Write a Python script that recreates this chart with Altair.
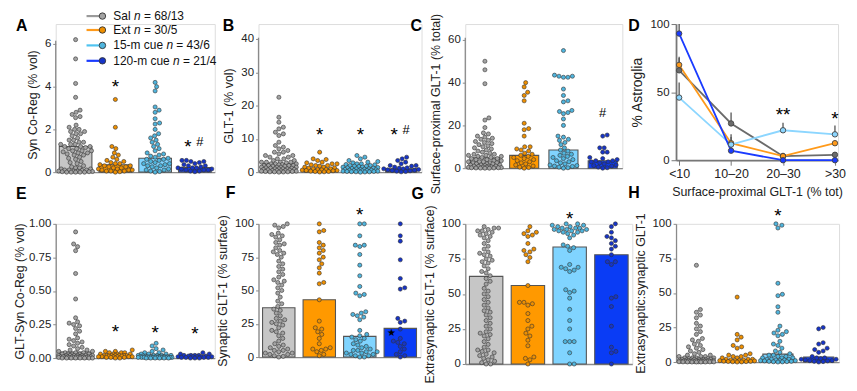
import altair as alt
import pandas as pd

FONT = "Liberation Sans"
GROUPS = ["Sal", "Ext", "15-m cue", "120-m cue"]
LEG_PRE = ["Sal", "Ext", "15-m cue", "120-m cue"]
LEG_SUF = ["= 68/13", "= 30/5", "= 43/6", "= 21/4"]
BAR_FILL = ["#C6C6C6", "#FF9900", "#80D4FF", "#0A3CF5"]
DOT_FILL = ["#A3A3A3", "#EE8F00", "#4FB5DE", "#1634C8"]
LINE_COL = ["#6B6B6B", "#FF9A1A", "#8CD6FF", "#1A3BFF"]
LEG_LINE = ["#9A9A9A", "#FF9A1A", "#4FC3F0", "#1A3BFF"]
DOT_STROKE = "#333333"
AXIS_COL = "#8A8A8A"

A_SAL = [6.2, 5.3, 4.15, 3.5, 2.9, 2.8, 2.7, 2.6, 2.55, 2.2, 2.1, 2.0, 2.0, 1.9, 1.9, 1.8, 1.8, 1.7, 1.6,
         1.5, 1.5, 1.4, 1.4, 1.3, 1.3, 1.3, 1.2, 1.2, 1.2, 1.15, 1.1, 1.1, 1.0, 1.0, 1.0, 0.95, 0.9, 0.9,
         0.85, 0.8, 0.8, 0.7, 0.65, 0.6, 0.5, 0.45, 0.4, 0.3, 0.25, 0.2, 0.2, 0.15, 0.15, 0.1, 0.1, 0.1,
         0.08, 0.05, 0.05, 0.05, 0.03, 0.02, 0.02, 0.0, 0.0, 0.0, 0.0, 0.0]
A_EXT = [3.4, 2.1, 1.2, 1.1, 0.9, 0.8, 0.7, 0.6, 0.55, 0.5, 0.45, 0.4, 0.4, 0.35, 0.3, 0.3, 0.25, 0.25,
         0.2, 0.2, 0.15, 0.15, 0.1, 0.1, 0.1, 0.05, 0.05, 0.05, 0.02, 0.0]
A_15 = [4.2, 4.0, 3.8, 3.05, 2.9, 2.8, 2.5, 2.3, 2.25, 2.0, 1.8, 1.7, 1.6, 1.5, 1.4, 1.3, 1.2, 1.1, 1.0,
        0.9, 0.85, 0.8, 0.75, 0.7, 0.65, 0.6, 0.6, 0.55, 0.5, 0.45, 0.4, 0.4, 0.35, 0.3, 0.3, 0.25, 0.2,
        0.15, 0.1, 0.1, 0.05, 0.03, 0.0]
A_120 = [0.55, 0.55, 0.5, 0.5, 0.45, 0.4, 0.35, 0.3, 0.3, 0.25, 0.2, 0.2, 0.2, 0.15, 0.15, 0.1, 0.1,
         0.1, 0.05, 0.05, 0.02]
A_BARS = [1.2, 0.35, 0.65, 0.22]

B_SAL = [22.5, 16.5, 15, 13.5, 13, 12, 11.5, 11, 9, 8, 7.5, 7, 6.5, 6, 6, 5.5, 5, 5, 4.5, 4.5, 4, 4,
         3.5, 3.5, 3, 3, 3, 3, 2.8, 2.5, 2.5, 2.5, 2.3, 2.2, 2, 2, 2, 2, 1.8, 1.8, 1.5, 1.5, 1.5, 1.5,
         1.3, 1.2, 1.2, 1, 1, 1, 1, 0.8, 0.8, 0.7, 0.6, 0.5, 0.5, 0.5, 0.4, 0.3, 0.3, 0.2, 0.2, 0.1,
         0.1, 0.1, 0.05, 0]
B_EXT = [6, 4, 3.8, 3.5, 3, 2.8, 2.5, 2.5, 2.2, 2, 2, 1.8, 1.5, 1.5, 1.3, 1.2, 1, 1, 0.8, 0.8, 0.7,
         0.6, 0.5, 0.5, 0.4, 0.3, 0.2, 0.2, 0.1, 0.05]
B_15 = [5, 4.5, 4, 3.5, 3.2, 3, 2.8, 2.5, 2.5, 2.3, 2.2, 2, 2, 1.8, 1.8, 1.7, 1.5, 1.5, 1.4, 1.3, 1.2,
        1.1, 1, 1, 0.9, 0.8, 0.8, 0.7, 0.6, 0.6, 0.5, 0.5, 0.4, 0.4, 0.3, 0.3, 0.2, 0.2, 0.15, 0.1,
        0.1, 0.05, 0]
B_120 = [4.5, 4, 3.5, 3, 2.5, 2, 2, 1.8, 1.5, 1.3, 1.2, 1, 1, 0.8, 0.7, 0.6, 0.5, 0.4, 0.3, 0.2, 0.1]
B_BARS = [2.5, 1.0, 1.0, 1.0]

C_SAL = [50, 46, 39.5, 23.5, 22.5, 19, 16.5, 16, 15, 14.5, 14, 13.5, 13, 12.5, 12, 11.5, 11, 10.5, 10,
         9.5, 9, 8.5, 8, 7.5, 7, 6.5, 6.5, 6, 6, 5.5, 5.5, 5, 5, 4.5, 4.5, 4, 4, 3.5, 3.5, 3, 3, 3, 2.5,
         2.5, 2.5, 2, 2, 2, 1.5, 1.5, 1.5, 1.2, 1, 1, 1, 0.8, 0.6, 0.5, 0.5, 0.4, 0.3, 0.2, 0.2, 0.1,
         0.1, 0.05, 0, 0]
C_EXT = [40, 38, 35.5, 34, 31.5, 21, 18.5, 18, 15, 10, 10, 9, 8.5, 8, 7, 6.5, 6, 5.5, 5, 4.5, 4, 3.5,
         3, 2.5, 2, 1.5, 1, 0.5, 0.3, 0]
C_15 = [55, 43.5, 43, 43, 42.5, 42.5, 37, 34, 31.5, 31, 27, 26.5, 26, 25.5, 23, 20, 15, 14.5, 13.5, 13,
        12, 11, 9.5, 8.5, 8, 7, 6.5, 6, 5.5, 5, 4.5, 4, 3.5, 3, 2.5, 2, 1.5, 1.2, 1, 0.8, 0.5, 0.2, 0]
C_120 = [15.5, 15, 9.5, 9.5, 7.5, 7.5, 5, 4.5, 4, 3.5, 3.5, 3, 3, 2.5, 2, 1.5, 1.2, 1, 0.5, 0.2, 0]
C_BARS = [4.8, 6.0, 8.5, 3.5]

D_CATS = ["<10", "10–20", "20–30", ">30"]
D_SAL = [66, 27, 3, 4]
D_SAL_TOP = [75, 35, 5.5, 6]
D_EXT = [70, 12.5, 3, 12.5]
D_EXT_TOP = [76, 19, 4.5, 14.5]
D_15 = [46, 11.5, 22, 19]
D_15_TOP = [57, 17, 27.5, 25.5]
D_120 = [93, 7, 0, 0]
D_120_TOP = [100, 11.5, 0, 0]

E_SAL = [0.94, 0.85, 0.83, 0.80, 0.63, 0.44, 0.30, 0.27, 0.26, 0.25, 0.24, 0.22, 0.2, 0.18, 0.15, 0.14,
         0.13, 0.12, 0.11, 0.1, 0.09, 0.08, 0.07, 0.06, 0.06, 0.05, 0.05, 0.04, 0.04, 0.04, 0.03, 0.03,
         0.03, 0.03, 0.03, 0.02, 0.02, 0.02, 0.02, 0.02, 0.02, 0.02, 0.02, 0.01, 0.01, 0.01, 0.01, 0.01,
         0.01, 0.01, 0.01, 0.01, 0.01, 0.01, 0.005, 0.005, 0.005, 0.005, 0.005, 0.005, 0.0, 0.0, 0.0,
         0.0, 0.0, 0.0, 0.0, 0.0]
E_EXT = [0.06, 0.05, 0.05, 0.04, 0.04, 0.04, 0.03, 0.03, 0.03, 0.03, 0.02, 0.02, 0.02, 0.02, 0.02, 0.02,
         0.02, 0.015, 0.015, 0.01, 0.01, 0.01, 0.01, 0.01, 0.01, 0.005, 0.005, 0.005, 0.0, 0.0]
E_15 = [0.11, 0.09, 0.07, 0.06, 0.05, 0.04, 0.04, 0.03, 0.03, 0.03, 0.02, 0.02, 0.02, 0.02, 0.02, 0.015,
        0.015, 0.01, 0.01, 0.01, 0.01, 0.01, 0.01, 0.01, 0.01, 0.01, 0.01, 0.005, 0.005, 0.005, 0.005,
        0.005, 0.005, 0.005, 0.005, 0.005, 0.005, 0.0, 0.0, 0.0, 0.0, 0.0, 0.0]
E_120 = [0.04, 0.03, 0.03, 0.02, 0.02, 0.02, 0.02, 0.015, 0.015, 0.01, 0.01, 0.01, 0.01, 0.01, 0.005,
         0.005, 0.005, 0.005, 0.0, 0.0, 0.0]
E_BARS = [0.045, 0.02, 0.02, 0.012]

F_SAL = [100, 99, 98, 97, 93, 92, 91, 90, 88, 86, 85, 84, 82, 80, 79, 78, 77, 75, 72, 70, 68, 66, 64,
         62, 60, 58, 57, 56, 54, 52, 50, 48, 45, 42, 40, 38, 36, 35, 33, 31, 29, 28, 27, 26, 25, 24, 22,
         20, 19, 18, 16, 14, 12, 10, 9, 8, 7, 6, 5, 5, 4, 3, 3, 2, 2, 1, 0.5, 0]
F_EXT = [100, 95, 94, 86, 84, 82, 80, 78, 75, 73, 70, 67, 63, 56, 55, 43, 27, 22, 21, 19, 17, 14, 10, 7,
         6, 6, 5, 4, 2, 1]
F_15 = [100, 100, 91, 84, 84, 83, 77, 69, 61, 53, 48, 47, 46, 34, 33, 32, 31, 30, 28, 20, 17, 16, 15,
        14, 13, 12, 10, 9, 8, 7, 6, 5, 5, 4, 4, 3, 3, 2, 2, 1, 1, 0, 0]
F_120 = [100, 91, 87, 73, 59, 52, 51, 29, 27, 26, 21, 14, 12, 11, 10, 8, 6, 4, 2, 1, 0]
F_BARS = [37, 43, 15.5, 21.5]

G_SAL = [98, 97, 97, 96, 95, 95, 94, 93, 92, 91, 90, 88, 86, 84, 82, 80, 79, 78, 77, 75, 74, 73, 72, 70,
         68, 66, 65, 63, 61, 59, 57, 54, 52, 50, 48, 46, 44, 42, 40, 38, 37, 35, 33, 31, 29, 27, 25, 23,
         22, 21, 20, 18, 16, 14, 12, 10, 10, 9, 8, 7, 6, 5, 4, 3, 2, 1, 0, 0]
G_EXT = [98, 95, 94, 93, 92, 91, 86, 82, 81, 80, 78, 76, 73, 56, 44, 44, 43, 42, 36, 31, 27, 25, 22, 20,
         17, 13, 5, 4, 3, 0]
G_15 = [100, 100, 99, 99, 98, 98, 97, 97, 97, 96, 96, 96, 95, 95, 95, 94, 94, 93, 92, 90, 85, 84, 83,
        81, 71, 69, 69, 68, 67, 66, 53, 52, 51, 47, 39, 31, 25, 16, 16, 16, 8, 0, 0]
G_120 = [100, 98, 94, 91, 90, 88, 86, 84, 82, 78, 73, 73, 71, 48, 47, 41, 27, 12, 9, 8, 0]
G_BARS = [62.5, 56, 83.5, 78]

H_SAL = [70, 38, 36, 34, 32, 28, 26, 24, 22, 20, 17, 16, 15, 13, 12, 11, 10, 9, 8, 7, 6, 5, 5, 4, 4, 4,
         3, 3, 3, 3, 2.5, 2.5, 2, 2, 2, 2, 2, 1.5, 1.5, 1.5, 1.5, 1.2, 1.2, 1, 1, 1, 1, 1, 0.8, 0.8,
         0.7, 0.6, 0.5, 0.5, 0.5, 0.4, 0.3, 0.3, 0.2, 0.2, 0.1, 0.1, 0.1, 0.05, 0, 0, 0, 0]
H_EXT = [47, 20, 18, 16, 12, 11, 10, 6, 5, 5, 4, 4, 3, 3, 2, 2, 2, 1.5, 1.5, 1, 1, 1, 0.8, 0.6, 0.5,
         0.4, 0.3, 0.2, 0.1, 0]
H_15 = [100, 99, 97, 57, 49, 48, 40, 36, 26, 23, 22, 21, 20, 19, 15, 13, 12, 10, 8, 7, 6, 5, 5, 4, 4,
        3, 3, 3, 2, 2, 2, 1.5, 1.5, 1, 1, 1, 0.8, 0.5, 0.5, 0.3, 0.2, 0.1, 0]
H_120 = [25, 24, 14, 13, 10, 9, 8, 7, 4, 3, 3, 2.5, 2, 2, 1.5, 1, 1, 0.8, 0.5, 0.3, 0]
H_BARS = [1.8, 1.2, 5.7, 3.6]

A_STAR = [(1, 4.2)]
A_STARHASH = [(3, 1.4)]
B_STAR = [(1, 12.6), (2, 12.6)]
B_STARHASH = [(3, 12.6)]
C_HASH = [(3, 26)]
E_STAR = [(1, 0.232), (2, 0.224), (3, 0.217)]
F_STAR = [(2, 110)]
G_STAR = [(2, 107)]
H_STAR = [(2, 109)]
F_SMALLSTAR = [(3, 18)]
D_STARS = [("20–30", 36.5, "**"), (">30", 33.6, "*")]

ROW_STEP = 149 + 52
LEG_ROWS = [-8, 6, 21.5, 37]


def swarm(vals, ppu, d, half):
    placed = []
    offs = [0.0] * len(vals)
    order = sorted(range(len(vals)), key=lambda i: vals[i])
    cands = [0.0]
    k = 1
    while k * 0.5 <= half:
        cands += [k * 0.5, -k * 0.5]
        k += 1
    for i in order:
        y = vals[i] * ppu
        chosen = None
        for c in cands:
            if all((px - c) ** 2 + (py - y) ** 2 >= d * d for px, py in placed):
                chosen = c
                break
        if chosen is None:
            best = -1
            for c in cands:
                m = min((px - c) ** 2 + (py - y) ** 2 for px, py in placed)
                if m > best:
                    best, chosen = m, c
        placed.append((chosen, y))
        offs[i] = chosen
    return offs


def yaxis(ticks, title, fmt=None, domain=True, title_y=None, title_pad=5):
    kw = dict(values=ticks, title=title, tickSize=3, tickColor=AXIS_COL, tickWidth=1,
              domain=domain, domainColor=AXIS_COL, domainWidth=1.3, labelFontSize=11.5,
              labelColor="#222222", titleFontSize=12.5, titleColor="#222222",
              titleFontWeight="normal", titlePadding=title_pad, labelPadding=2, grid=False,
              labelFont=FONT, titleFont=FONT)
    if fmt:
        kw["format"] = fmt
    if title_y is not None:
        kw["titleY"] = title_y
    return alt.Axis(**kw)


XAXIS = alt.Axis(labels=False, ticks=False, title=None, domainColor=AXIS_COL, domainWidth=1.3, grid=False)


def letter_layer(letters, size=16):
    df = pd.DataFrame({"t": [l[0] for l in letters], "lx": [l[1] for l in letters],
                       "ly": [l[2] for l in letters]})
    return alt.Chart(df).mark_text(
        font=FONT, fontSize=size, fontWeight="bold", align="left", baseline="alphabetic", color="#000000"
    ).encode(x=alt.X("lx:Q", scale=None, axis=None), y=alt.Y("ly:Q", scale=None, axis=None), text="t:N")


def bar_panel(letters, vals, bars, ymax, width, height, ticks, title, half, fmt=None,
              axis_top=None, title_y=None, title_pad=5, stars=(), starhash=(), hashes=(),
              smallstars=(), legend=False):
    xmin = -0.5
    band = width / (3.5 - xmin)
    ppu = height / ymax
    rows = []
    for gi, v in enumerate(vals):
        offs = swarm(v, ppu, 4.5, band * 0.43)
        for val, o in zip(v, offs):
            rows.append({"x": gi + o / band, "v": val, "fill": DOT_FILL[gi]})
    pts_df = pd.DataFrame(rows)
    bar_df = pd.DataFrame({"x0": [g - half for g in range(4)], "x1": [g + half for g in range(4)],
                           "y0": [0] * 4, "y1": bars, "fill": BAR_FILL})
    xs = alt.Scale(domain=[xmin, 3.5], nice=False, zero=False)
    ys = alt.Scale(domain=[0, ymax], nice=False, zero=True)
    ya = yaxis(ticks, title, fmt, axis_top is None, title_y, title_pad)
    layers = []
    layers.append(alt.Chart(bar_df).mark_rect(stroke="#555555", strokeWidth=1.1).encode(
        x=alt.X("x0:Q", scale=xs, axis=XAXIS), x2="x1",
        y=alt.Y("y1:Q", scale=ys, axis=ya), y2="y0",
        fill=alt.Fill("fill:N", scale=None)))
    layers.append(alt.Chart(pts_df).mark_circle(size=17, stroke=DOT_STROKE, strokeWidth=0.6, opacity=1).encode(
        x=alt.X("x:Q", scale=xs, axis=XAXIS), y=alt.Y("v:Q", scale=ys, axis=ya),
        fill=alt.Fill("fill:N", scale=None)))
    if axis_top is not None:
        layers.append(alt.Chart(pd.DataFrame({"a0": [0], "a1": [axis_top]})).mark_rule(
            color=AXIS_COL, strokeWidth=1.3).encode(
            x=alt.value(0), y=alt.Y("a0:Q", scale=ys, axis=ya), y2="a1"))

    def ann(items, text, size, dx, dy):
        df = pd.DataFrame({"g": [i[0] for i in items], "y": [i[1] for i in items]})
        return alt.Chart(df).mark_text(text=text, fontSize=size, dx=dx, dy=dy, font=FONT,
                                       color="#000000").encode(
            x=alt.X("g:Q", scale=xs, axis=XAXIS), y=alt.Y("y:Q", scale=ys, axis=ya))
    if stars:
        layers.append(ann(stars, "*", 19, 0, 5))
    if starhash:
        layers.append(ann(starhash, "*", 19, -7, 5))
        layers.append(ann(starhash, "#", 13, 5, 0))
    if hashes:
        layers.append(ann(hashes, "#", 13, 0, 0))
    if smallstars:
        layers.append(ann(smallstars, "★", 10, -9, 0))
    if legend:
        lg = pd.DataFrame({"pre": LEG_PRE, "suf": LEG_SUF, "line": LEG_LINE, "dot": DOT_FILL,
                           "ly": LEG_ROWS})
        wtab = {"S": .667, "a": .556, "l": .222, " ": .278, "E": .667, "x": .5, "t": .278, "1": .556,
                "5": .556, "-": .333, "m": .833, "c": .5, "u": .556, "e": .556, "2": .556, "0": .556}
        fs = 12
        tx0 = 58
        lg["xn"] = [tx0 + fs * (sum(wtab[ch] for ch in p) + 0.278) for p in LEG_PRE]
        lg["xs"] = lg["xn"] + fs * (0.556 + 0.278)
        yl = alt.Y("ly:Q", scale=None, axis=None)
        layers.append(alt.Chart(lg).mark_rule(strokeWidth=2.2).encode(
            x=alt.value(31), x2=alt.value(44), y=yl, stroke=alt.Stroke("line:N", scale=None)))
        layers.append(alt.Chart(lg).mark_circle(size=42, stroke=DOT_STROKE, strokeWidth=0.9, opacity=1).encode(
            x=alt.value(47), y=yl, fill=alt.Fill("dot:N", scale=None)))
        layers.append(alt.Chart(lg).mark_text(font=FONT, fontSize=fs, align="left", baseline="middle",
                                              color="#111111").encode(
            x=alt.value(tx0), y=yl, text="pre:N"))
        layers.append(alt.Chart(lg).mark_text(font=FONT, fontSize=fs, align="left", baseline="middle",
                                              fontStyle="italic", color="#111111").encode(
            x=alt.X("xn:Q", scale=None, axis=None), y=yl, text=alt.value("n")))
        layers.append(alt.Chart(lg).mark_text(font=FONT, fontSize=fs, align="left", baseline="middle",
                                              color="#111111").encode(
            x=alt.X("xs:Q", scale=None, axis=None), y=yl, text="suf:N"))
    if letters:
        layers.append(letter_layer(letters))
    return alt.layer(*layers).properties(width=width, height=height)


def d_panel(width, height, letters):
    rows = []
    series = [(D_SAL, D_SAL_TOP), (D_EXT, D_EXT_TOP), (D_15, D_15_TOP), (D_120, D_120_TOP)]
    for gi, (vals, tops) in enumerate(series):
        for ci, (v, t) in enumerate(zip(vals, tops)):
            rows.append({"cat": D_CATS[ci], "ci": ci, "grp": GROUPS[gi], "v": v, "top": t,
                         "lc": LINE_COL[gi]})
    df = pd.DataFrame(rows)
    xs = alt.Scale(type="point", domain=D_CATS, padding=0.06)
    ys = alt.Scale(domain=[0, 100], nice=False)
    xa = alt.Axis(title="Surface-proximal GLT-1 (% tot)", labelAngle=0, tickSize=5, tickColor="#777777",
                  domainColor="#777777", domainWidth=1.8, labelFontSize=12.5, titleFontSize=12.5,
                  titleFontWeight="normal", labelColor="#222222", titleColor="#222222", labelPadding=2,
                  titlePadding=6, labelFont=FONT, titleFont=FONT, grid=False)
    ya = alt.Axis(values=[0, 50, 100], title="% Astroglia", tickSize=5, tickColor="#777777",
                  domainColor="#777777", domainWidth=1.8, labelFontSize=11.5, titleFontSize=14,
                  titleFontWeight="normal", labelColor="#222222", titleColor="#222222", labelPadding=2,
                  titlePadding=6, labelFont=FONT, titleFont=FONT, grid=False)
    X = alt.X("cat:N", scale=xs, axis=xa, sort=D_CATS)
    err = alt.Chart(df).mark_rule(color="#555555", strokeWidth=1.3).encode(
        x=X, y=alt.Y("v:Q", scale=ys, axis=ya), y2="top")
    line = alt.Chart(df).mark_line(strokeWidth=1.8).encode(
        x=X, y=alt.Y("v:Q", scale=ys, axis=ya), stroke=alt.Stroke("lc:N", scale=None),
        detail="grp:N", order="ci:Q")
    pts = alt.Chart(df).mark_circle(size=30, stroke="#444444", strokeWidth=0.9, opacity=1).encode(
        x=X, y=alt.Y("v:Q", scale=ys, axis=ya), fill=alt.Fill("lc:N", scale=None))
    sdf = pd.DataFrame({"cat": [s[0] for s in D_STARS], "y": [s[1] for s in D_STARS],
                        "t": [s[2] for s in D_STARS]})
    stars = alt.Chart(sdf).mark_text(fontSize=19, dy=5, font=FONT, color="#000000").encode(
        x=alt.X("cat:N", scale=xs, axis=xa, sort=D_CATS), y=alt.Y("y:Q", scale=ys, axis=ya), text="t:N")
    return alt.layer(err, line, pts, stars, letter_layer(letters)).properties(width=width, height=height)


# panel letters are drawn from the top-row panels (same column origin); bottom-row ones are offset by ROW_STEP
A = bar_panel([("A", -40, 7), ("E", -40, ROW_STEP - 25)], [A_SAL, A_EXT, A_15, A_120], A_BARS, 6.93, 160, 149,
              [0, 2, 4, 6], "Syn Co-Reg (% vol)", 0.41, axis_top=6.15, title_y=81, stars=A_STAR,
              starhash=A_STARHASH, legend=True)
B = bar_panel([("B", -36, 7), ("F", -33, ROW_STEP - 26)], [B_SAL, B_EXT, B_15, B_120], B_BARS, 44.5, 164, 149,
              [0, 10, 20, 30, 40], "GLT-1 (% vol)", 0.38, axis_top=40.4, title_y=82, stars=B_STAR,
              starhash=B_STARHASH)
C = bar_panel([("C", -55, 7), ("G", -54, ROW_STEP - 25)], [C_SAL, C_EXT, C_15, C_120], C_BARS, 67.4, 158, 145,
              [0, 20, 40, 60], "Surface-proximal GLT-1 (% total)", 0.37, axis_top=61, title_y=80,
              hashes=C_HASH)
D = d_panel(163, 137, [("D", -48, 7), ("H", -48, ROW_STEP - 26)])
E = bar_panel(None, [E_SAL, E_EXT, E_15, E_120], E_BARS, 1.0, 160, 135,
              [0, 0.25, 0.5, 0.75, 1.0], "GLT-Syn Co-Reg (% vol)", 0.4, fmt=".2f", stars=E_STAR,
              title_pad=2)
F = bar_panel(None, [F_SAL, F_EXT, F_15, F_120], F_BARS, 100, 163, 134,
              [0, 25, 50, 75, 100], "Synaptic GLT-1 (% surface)", 0.4, stars=F_STAR, smallstars=F_SMALLSTAR)
G = bar_panel(None, [G_SAL, G_EXT, G_15, G_120], G_BARS, 100, 168, 141,
              [0, 25, 50, 75, 100], "Extrasynaptic GLT-1 (% surface)", 0.4, stars=G_STAR)
H = bar_panel(None, [H_SAL, H_EXT, H_15, H_120], H_BARS, 100, 164, 139,
              [0, 25, 50, 75, 100], "Extrasynaptic:synaptic GLT-1", 0.37, stars=H_STAR)

chart = alt.concat(A, B, C, D, E, F, G, H, columns=4, spacing={"row": 52, "column": 44},
                   bounds="flush").properties(
    padding={"left": 5, "top": 0, "right": 3, "bottom": 3}
).configure_view(strokeWidth=0).configure(font=FONT)

chart.save("out.html", embed_options={"renderer": "svg", "actions": False})
